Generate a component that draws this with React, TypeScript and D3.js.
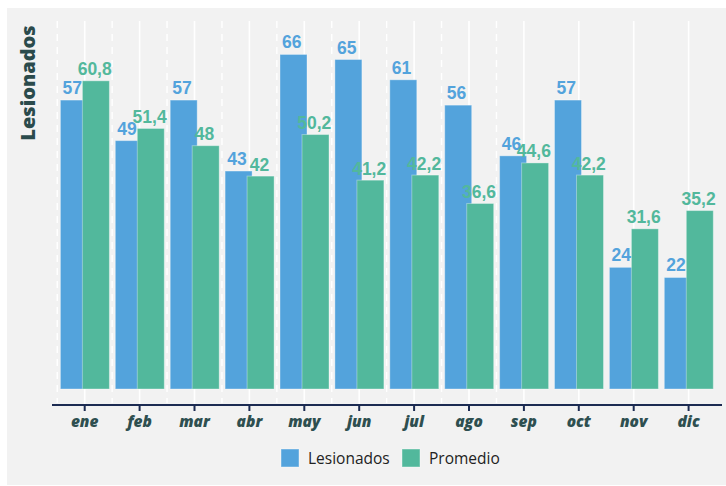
import React, { useEffect, useRef } from "react";
import * as d3 from "d3";

const months = ["ene", "feb", "mar", "abr", "may", "jun", "jul", "ago", "sep", "oct", "nov", "dic"];
const lesionados = [57, 49, 57, 43, 66, 65, 61, 56, 46, 57, 24, 22];
const promedio = [60.8, 51.4, 48, 42, 50.2, 41.2, 42.2, 36.6, 44.6, 42.2, 31.6, 35.2];
const seriesNames = ["Lesionados", "Promedio"];

const BLUE = "#53a3dc";
const GREEN = "#52b89c";

export default function App() {
  const svgRef = useRef<SVGSVGElement | null>(null);
  const width = 726;
  const height = 486;

  useEffect(() => {
    const svg = d3.select(svgRef.current);
    svg.selectAll("*").remove();

    // panel background
    svg.append("rect")
      .attr("x", 7).attr("y", 8)
      .attr("width", 719).attr("height", 477)
      .attr("fill", "#f2f2f2");

    const x = d3.scaleBand<string>().domain(months).range([57.25, 716.05]).padding(0);
    const y = d3.scaleLinear().domain([0, 72.6]).range([389, 21]);
    const step = x.bandwidth();
    const center = (m: string) => (x(m) as number) + step / 2;

    // grid: solid at category centers, dashed at some boundaries
    svg.append("g")
      .selectAll("line")
      .data(months)
      .join("line")
      .attr("x1", (d) => center(d)).attr("x2", (d) => center(d))
      .attr("y1", 21).attr("y2", 405)
      .attr("stroke", "#fff").attr("stroke-width", 1.6);

    svg.append("g")
      .selectAll("line")
      .data(months.slice(0, 9))
      .join("line")
      .attr("x1", (d) => x(d) as number).attr("x2", (d) => x(d) as number)
      .attr("y1", 21).attr("y2", 403)
      .attr("stroke", "#fff").attr("stroke-width", 1.4)
      .attr("stroke-dasharray", "7,6");

    const barW = 27;
    // blue bars
    svg.append("g")
      .selectAll("rect")
      .data(lesionados)
      .join("rect")
      .attr("x", (d, i) => center(months[i]) - 24.3)
      .attr("y", (d) => y(d))
      .attr("width", barW)
      .attr("height", (d) => y(0) - y(d))
      .attr("fill", BLUE)
      .attr("stroke", "rgba(255,255,255,0.35)")
      .attr("stroke-width", 1);

    // green bars
    svg.append("g")
      .selectAll("rect")
      .data(promedio)
      .join("rect")
      .attr("x", (d, i) => center(months[i]) - 2.3)
      .attr("y", (d) => y(d))
      .attr("width", barW)
      .attr("height", (d) => y(0) - y(d))
      .attr("fill", GREEN)
      .attr("stroke", "rgba(255,255,255,0.35)")
      .attr("stroke-width", 1);

    const fmt = (v: number) => String(v).replace(".", ",");

    // value labels
    svg.append("g")
      .selectAll("text")
      .data(lesionados)
      .join("text")
      .attr("x", (d, i) => center(months[i]) - 12.5)
      .attr("y", (d) => y(d) - 6)
      .attr("text-anchor", "middle")
      .attr("font-family", "'Liberation Sans', Arial, sans-serif")
      .attr("font-weight", "bold")
      .attr("font-size", 17.5)
      .attr("fill", BLUE)
      .text((d) => fmt(d));

    svg.append("g")
      .selectAll("text")
      .data(promedio)
      .join("text")
      .attr("x", (d, i) => center(months[i]) + 10)
      .attr("y", (d) => y(d) - 5.5)
      .attr("text-anchor", "middle")
      .attr("font-family", "'Liberation Sans', Arial, sans-serif")
      .attr("font-weight", "bold")
      .attr("font-size", 17.5)
      .attr("fill", GREEN)
      .text((d) => fmt(d));

    // x axis
    const axisY = 405;
    const xAxisG = svg.append("g").attr("transform", `translate(0,${axisY})`);
    xAxisG.append("line")
      .attr("x1", 52).attr("x2", 722)
      .attr("stroke", "#1c2b52").attr("stroke-width", 2);
    xAxisG.selectAll("line.tick")
      .data(months)
      .join("line")
      .attr("class", "tick")
      .attr("x1", (d) => center(d)).attr("x2", (d) => center(d))
      .attr("y1", 0).attr("y2", 6)
      .attr("stroke", "#1c2b52").attr("stroke-width", 2);
    xAxisG.selectAll("text")
      .data(months)
      .join("text")
      .attr("x", (d) => center(d))
      .attr("y", 22)
      .attr("text-anchor", "middle")
      .attr("font-family", "'Open Sans', sans-serif")
      .attr("font-weight", 800)
      .attr("font-style", "italic")
      .attr("font-size", 15.5)
      .attr("fill", "#2e4f50")
      .text((d) => d);

    // y title
    svg.append("text")
      .attr("transform", "translate(35,83) rotate(-90)")
      .attr("text-anchor", "middle")
      .attr("font-family", "'Open Sans', sans-serif")
      .attr("font-weight", 800)
      .attr("font-size", 20)
      .attr("fill", "#2b4b4c")
      .text("Lesionados");

    // legend
    const legend = svg.append("g").attr("transform", "translate(281,449)");
    const items = legend.selectAll("g")
      .data(seriesNames)
      .join("g")
      .attr("transform", (d, i) => `translate(${i * 121},0)`);
    items.append("rect")
      .attr("width", 18).attr("height", 18)
      .attr("fill", (d, i) => (i === 0 ? BLUE : GREEN))
      .attr("stroke", "rgba(255,255,255,0.4)");
    items.append("text")
      .attr("x", 27).attr("y", 14.5)
      .attr("font-family", "'Open Sans', sans-serif")
      .attr("font-size", 15.5)
      .attr("fill", "#222")
      .text((d) => d);
  }, []);

  return (
    <div style={{ position: "absolute", left: 0, top: 0 }}>
      <svg ref={svgRef} width={width} height={height} style={{ display: "block", background: "#fff" }} />
    </div>
  );
}
